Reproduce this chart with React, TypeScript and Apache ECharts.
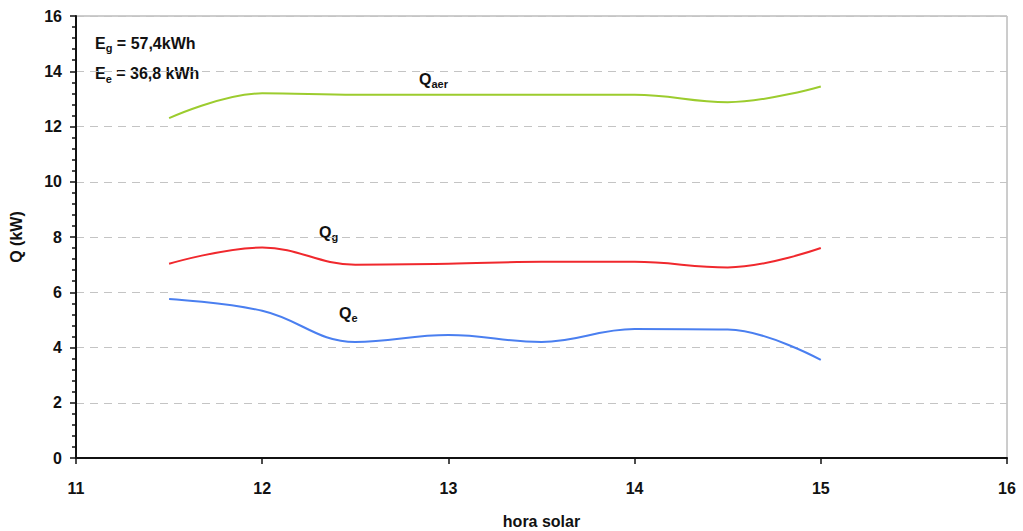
import React, { useEffect, useRef } from "react";
import * as echarts from "echarts";

const hours = [11.5, 12, 12.5, 13, 13.5, 14, 14.5, 15];
const qAer = [12.3, 13.2, 13.15, 13.15, 13.15, 13.15, 12.88, 13.45];
const qG = [7.03, 7.62, 7.0, 7.03, 7.1, 7.1, 6.9, 7.6];
const qE = [5.76, 5.33, 4.2, 4.45, 4.2, 4.67, 4.65, 3.55];
const xTicks = [11, 16];
const yTicks = [0, 16];

const font = "'Liberation Sans', Arial, sans-serif";

export default function App() {
  const ref = useRef<HTMLDivElement>(null);
  useEffect(() => {
    document.body.style.margin = "0";
    document.documentElement.style.overflow = "hidden";
    const chart = echarts.init(ref.current!, null, { renderer: "svg", width: 1023, height: 531 });
    const mk = (ys: number[]) => hours.map((h, i) => [h, ys[i]]);
    const lineSeries = (name: string, ys: number[], color: string) => ({
      name,
      type: "line",
      data: mk(ys),
      smooth: 0.4,
      showSymbol: false,
      symbol: "none",
      lineStyle: { color, width: 2 },
    });
    const sub = { fontSize: 11, fontWeight: "bold", fontFamily: font, color: "#111", padding: [10, 0, 0, 0] };
    const main = { fontSize: 16, fontWeight: "bold", fontFamily: font, color: "#111" };
    chart.setOption({
      animation: false,
      backgroundColor: "#fff",
      grid: {
        left: 76,
        right: 16,
        top: 16,
        bottom: 73,
        containLabel: false,
        outerBoundsMode: "none",
        show: true,
        borderColor: "#9a9a9a",
        borderWidth: 1,
      },
      xAxis: {
        type: "value",
        min: xTicks[0],
        max: xTicks[1],
        interval: 1,
        name: "hora solar",
        nameLocation: "middle",
        nameGap: 55,
        nameTextStyle: { fontFamily: font, fontWeight: "bold", fontSize: 16, color: "#111" },
        axisLine: { lineStyle: { color: "#111", width: 2 } },
        axisTick: { show: true, length: 6, lineStyle: { color: "#111", width: 1.5 } },
        axisLabel: { fontFamily: font, fontWeight: "bold", fontSize: 16, color: "#111", margin: 22 },
        splitLine: { show: false },
      },
      yAxis: {
        type: "value",
        min: yTicks[0],
        max: yTicks[1],
        interval: 2,
        name: "Q (kW)",
        nameLocation: "middle",
        nameGap: 52,
        nameRotate: 90,
        nameTextStyle: { fontFamily: font, fontWeight: "bold", fontSize: 16, color: "#111" },
        axisLine: { lineStyle: { color: "#111", width: 2 } },
        axisTick: { show: true, length: 6, lineStyle: { color: "#111", width: 1.5 } },
        minorTick: { show: true, splitNumber: 5, length: 4, lineStyle: { color: "#111", width: 1.5 } },
        axisLabel: { fontFamily: font, fontWeight: "bold", fontSize: 16, color: "#111", margin: 14 },
        splitLine: { show: true, lineStyle: { color: "#c4c4c4", type: [8, 6], width: 1 } },
      },
      series: [
        lineSeries("Qaer", qAer, "#9ccc2e"),
        lineSeries("Qg", qG, "#f0282d"),
        lineSeries("Qe", qE, "#4a7ff0"),
      ],
      graphic: [
        {
          type: "text",
          left: 95,
          top: 35,
          style: { text: "{m|E}{s|g}{m| = 57,4kWh}", rich: { m: main, s: sub }, fill: "#111" },
        },
        {
          type: "text",
          left: 95,
          top: 63,
          style: {
            text: "{m|E}{s|e}{m| = 36,8 kWh}",
            rich: { m: main, s: sub },
            fill: "#111",
            backgroundColor: "#fff",
          },
        },
        {
          type: "text",
          left: 419,
          top: 71,
          style: { text: "{m|Q}{s|aer}", rich: { m: main, s: sub }, fill: "#111" },
        },
        {
          type: "text",
          left: 319,
          top: 224,
          style: { text: "{m|Q}{s|g}", rich: { m: main, s: sub }, fill: "#111" },
        },
        {
          type: "text",
          left: 339,
          top: 305,
          style: { text: "{m|Q}{s|e}", rich: { m: main, s: sub }, fill: "#111" },
        },
      ],
    });
    return () => chart.dispose();
  }, []);
  return <div ref={ref} style={{ position: "absolute", left: 0, top: 0, width: 1023, height: 531 }} />;
}
